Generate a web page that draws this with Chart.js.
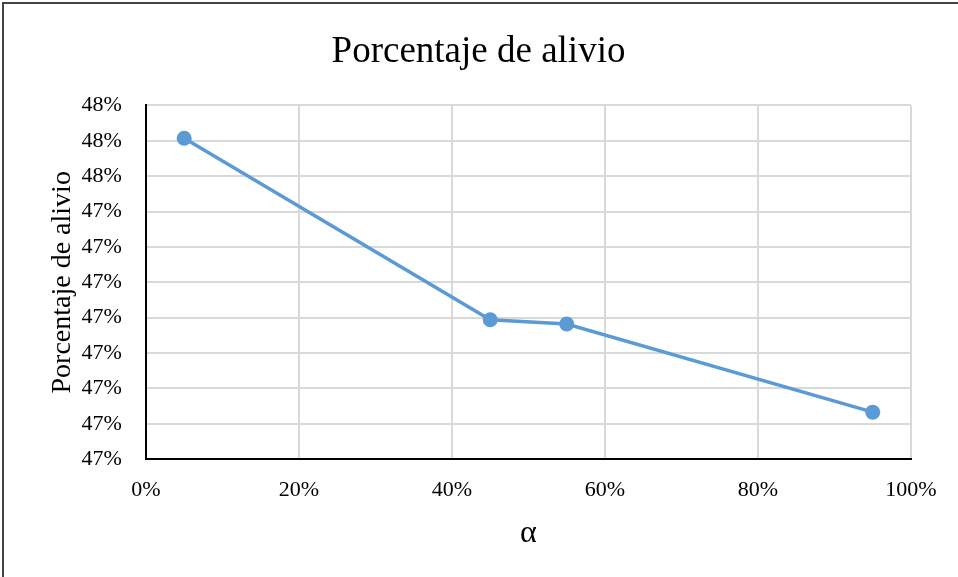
<!DOCTYPE html>
<html>
<head>
<meta charset="utf-8">
<script src="https://cdn.jsdelivr.net/npm/chart.js@4/dist/chart.umd.min.js"></script>
<style>
  html, body { margin: 0; padding: 0; background: #fff; }
  #marco { position: absolute; left: 2px; top: 2px; width: 1000px; height: 700px; border-left: 2px solid #444; border-top: 2px solid #444; }
  #caja { position: absolute; left: 0; top: 0; width: 958px; height: 577px; }
</style>
</head>
<body>
<div id="marco"></div>
<div id="caja"><canvas id="alivio"></canvas></div>
<script>
// alfa (x) y porcentaje de alivio (y)
const alfa = [0.05, 0.45, 0.55, 0.95];
const alivio = [0.47607, 0.47094, 0.47082, 0.46833];
const titulo = 'Porcentaje de alivio';
const tituloX = 'α';
const tituloY = 'Porcentaje de alivio';

const colorLinea = '#5B9BD5';
const colorGrid = '#d9d9d9';
const fuente = "'Liberation Serif', 'Times New Roman', serif";

function grafico_alivio(){
    const ctx = document.getElementById('alivio');
    const puntos = alfa.map((a, i) => ({x: a, y: alivio[i]}));

    new Chart(ctx, {
        type: 'line',
        data: {
            datasets: [{
                label: titulo,
                data: puntos,
                borderColor: colorLinea,
                backgroundColor: colorLinea,
                borderWidth: 3.5,
                pointRadius: 7.5,
                pointHoverRadius: 7.5,
                pointBorderWidth: 0,
                fill: false,
                tension: 0
            }]
        },
        options: {
            responsive: true,
            maintainAspectRatio: false,
            animation: false,
            layout: { padding: { left: 46, right: 47, top: 12, bottom: 24 } },
            plugins: {
                legend: { display: false },
                tooltip: { enabled: false },
                title: {
                    display: true,
                    text: titulo,
                    color: '#000',
                    font: { family: fuente, size: 37, weight: 'normal' },
                    padding: { top: 18, bottom: 31 }
                }
            },
            scales: {
                x: {
                    type: 'linear',
                    min: 0,
                    max: 1,
                    ticks: {
                        stepSize: 0.2,
                        color: '#000',
                        font: { family: fuente, size: 22 },
                        padding: 18,
                        maxRotation: 0,
                        callback: v => Math.round(v * 100 + 1e-6) + '%'
                    },
                    grid: { color: colorGrid, lineWidth: 2, drawTicks: false },
                    border: { color: '#000', width: 2 },
                    title: {
                        display: true,
                        text: tituloX,
                        color: '#000',
                        font: { family: fuente, size: 32 },
                        padding: { top: -7, bottom: 0 }
                    }
                },
                y: {
                    min: 0.467,
                    max: 0.477,
                    ticks: {
                        stepSize: 0.001,
                        color: '#000',
                        font: { family: fuente, size: 22 },
                        padding: 24,
                        callback: v => Math.round(v * 100 + 1e-6) + '%'
                    },
                    grid: { color: colorGrid, lineWidth: 2, drawTicks: false },
                    border: { color: '#000', width: 2 },
                    title: {
                        display: true,
                        text: tituloY,
                        color: '#000',
                        font: { family: fuente, size: 28 },
                        padding: { top: 0, bottom: -22 }
                    }
                }
            }
        }
    });
}

grafico_alivio();
</script>
</body>
</html>
